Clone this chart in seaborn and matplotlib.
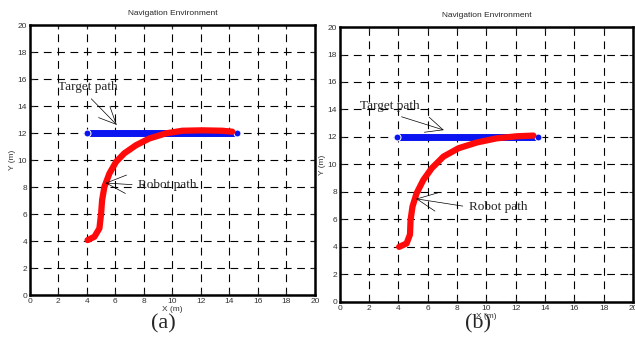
import matplotlib
matplotlib.use("Agg")
import matplotlib.pyplot as plt
import seaborn as sns
import pandas as pd

sns.set_theme(style="white")
plt.rcParams['font.family'] = ['Liberation Sans', 'DejaVu Sans']

# panel (a)
target_a_x = [4.0, 14.5]
target_a_y = [12.0, 12.0]
robot_a_x = [4.05, 4.53, 4.88, 5.0, 5.07, 5.23, 5.58, 6.05, 6.63, 7.45, 8.39, 9.56, 10.7, 12.1, 13.5, 14.2]
robot_a_y = [4.07, 4.32, 4.94, 6.05, 7.04, 8.02, 9.0, 9.87, 10.5, 11.1, 11.6, 11.98, 12.17, 12.2, 12.17, 12.1]

# panel (b)
target_b_x = [3.9, 13.5]
target_b_y = [12.0, 12.0]
robot_b_x = [4.05, 4.56, 4.79, 4.83, 4.96, 5.24, 5.7, 6.27, 7.07, 8.1, 9.36, 10.7, 12.07, 13.2]
robot_b_y = [4.0, 4.25, 4.9, 5.96, 6.93, 7.9, 8.87, 9.72, 10.57, 11.18, 11.6, 11.9, 12.05, 12.1]

ticks = list(range(0, 21, 2))

fig = plt.figure(figsize=(6.35, 3.38), dpi=100)
ax_a = fig.add_axes([0.047, 0.127, 0.449, 0.799])
ax_b = fig.add_axes([0.535, 0.107, 0.462, 0.813])


def draw_panel(ax, tx, ty, rx, ry, tgt_txt, tgt_tip, rob_txt, rob_tip, label, label_y):
    ax.set_xlim(0, 20)
    ax.set_ylim(0, 20)
    ax.set_xticks(ticks)
    ax.set_yticks(ticks)
    ax.tick_params(direction='in', labelsize=6, labelcolor='#333333', length=3,
                   width=0.8, pad=2, top=True, right=True, bottom=True, left=True)
    ax.grid(True, color='black', linestyle=(0, (7, 5)), linewidth=0.8)
    ax.set_axisbelow(True)
    for s in ax.spines.values():
        s.set_linewidth(1.8)
        s.set_color('black')

    tdf = pd.DataFrame({'x': tx, 'y': ty})
    rdf = pd.DataFrame({'x': rx, 'y': ry})
    sns.lineplot(data=tdf, x='x', y='y', ax=ax, color='#0a14f0', linewidth=5,
                 marker='o', markersize=5, sort=False, solid_capstyle='round')
    sns.lineplot(data=rdf, x='x', y='y', ax=ax, color='#ff0a0a', linewidth=4.5,
                 sort=False, solid_capstyle='round', solid_joinstyle='round')

    ax.set_title('Navigation Environment', fontsize=6, pad=7)
    ax.set_xlabel('X (m)', fontsize=6, labelpad=1, color='#333333')
    ax.set_ylabel('Y (m)', fontsize=6, labelpad=1, color='#333333')

    ax.annotate('Target path', xy=tgt_tip, xytext=tgt_txt, fontsize=9.5,
                family='Liberation Serif', va='bottom',
                arrowprops=dict(arrowstyle='->,head_length=1.3,head_width=0.6',
                                color='black', linewidth=0.5,
                                shrinkA=3, shrinkB=0,
                                relpos=(0.45, 0.0)))
    ax.annotate('Robot path', xy=rob_tip, xytext=rob_txt, fontsize=9.5,
                family='Liberation Serif', va='center',
                arrowprops=dict(arrowstyle='->,head_length=1.5,head_width=0.7',
                                color='black', linewidth=0.5,
                                shrinkA=2, shrinkB=0,
                                relpos=(0.0, 0.5)))
    ax.text(0.47, label_y, label, transform=ax.transAxes, fontsize=16,
            family='Liberation Serif', ha='center', va='center')


draw_panel(ax_a, target_a_x, target_a_y, robot_a_x, robot_a_y,
           (2.0, 15.0), (6.1, 12.6), (7.6, 8.15), (5.3, 8.3), '(a)', -0.105)
draw_panel(ax_b, target_b_x, target_b_y, robot_b_x, robot_b_y,
           (1.4, 13.8), (7.1, 12.5), (8.8, 6.9), (5.2, 7.5), '(b)', -0.08)

fig.savefig('out.png', dpi=100)
